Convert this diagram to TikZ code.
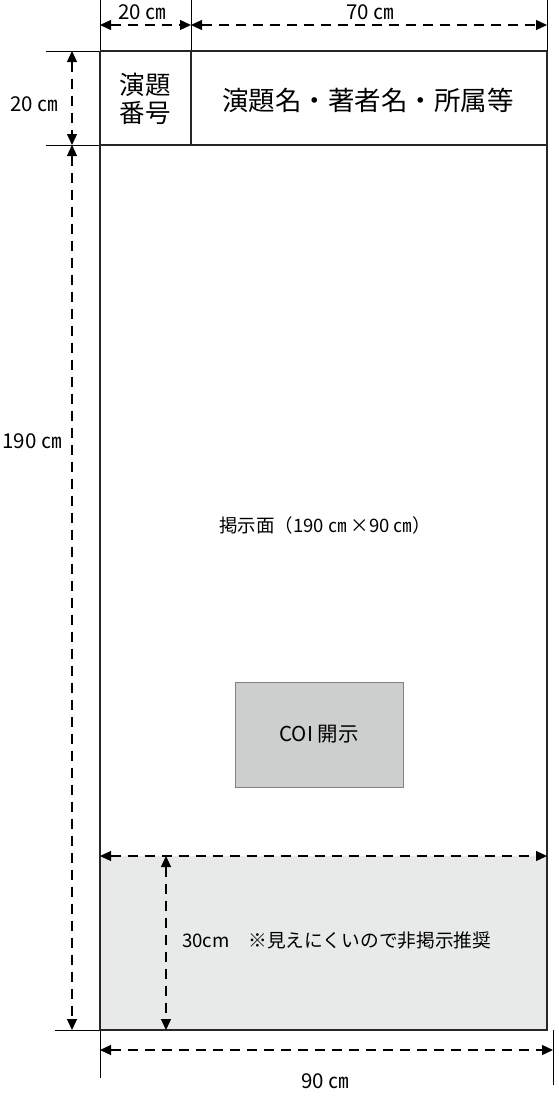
\documentclass[tikz,border=0pt]{standalone}
\usepackage{fontspec}
\setmainfont{Noto Sans CJK JP}
\usetikzlibrary{arrows.meta}
\begin{document}
\begin{tikzpicture}[x=1pt,y=-1pt,
  dimline/.style={line width=1.2pt,dash pattern=on 10pt off 7pt,{Triangle[length=11pt,width=10pt]}-{Triangle[length=11pt,width=10pt]}},
  extline/.style={line width=1pt},
  border/.style={line width=1.8pt,draw=black!85},
  lbl/.style={inner sep=0pt,font=\fontsize{20.5}{24}\selectfont}]
\useasboundingbox (0,0) rectangle (559,1100);
% coordinates
\coordinate (TL) at (100,51);
\coordinate (TD) at (191,51);
\coordinate (TR) at (547,51);
\coordinate (HL) at (100,145);
\coordinate (HD) at (191,145);
\coordinate (HR) at (547,145);
\coordinate (BL) at (100,1030);
\coordinate (BR) at (547,1030);
% gray bottom region
\fill[fill={rgb,255:red,232;green,233;blue,233}] (100,856) rectangle (BR);
% extension lines
\draw[extline] (100,0) -- (TL);
\draw[extline] (191,0) -- (TD);
\draw[extline] (547,0) -- (TR);
\draw[extline] (46,51) -- (TL);
\draw[extline] (46,145) -- (HL);
\draw[extline] (55,1030) -- (BL);
\draw[extline] (100,1030) -- (100,1078);
\draw[extline] (553,1030) -- (553,1085);
% borders
\draw[border] (TL) -- (TR);
\draw[border] (HL) -- (HR);
\draw[border] (TD) -- (HD);
\draw[border] (TL) -- (BL) -- (BR) -- (TR);
% COI box
\node[draw={rgb,255:red,130;green,130;blue,130},line width=1pt,fill={rgb,255:red,205;green,206;blue,206},minimum width=168pt,minimum height=105pt,inner sep=0pt,font=\fontsize{20.5}{24}\selectfont] (coi) at (319,734.5) {COI 開示};
% dimension arrows
\coordinate (a1) at (100,25); \coordinate (a2) at (191,25); \coordinate (a3) at (547,25);
\draw[dimline] (a1) -- (a2);
\draw[dimline] (a2) -- (a3);
\coordinate (v1) at (72,51); \coordinate (v2) at (72,145); \coordinate (v3) at (72,1030);
\draw[dimline] (v1) -- (v2);
\draw[dimline] (v2) -- (v3);
\coordinate (g1) at (100,856); \coordinate (g2) at (547,856);
\draw[dimline] (g1) -- (g2);
\coordinate (g3) at (166,856); \coordinate (g4) at (166,1030);
\draw[dimline] (g3) -- (g4);
\coordinate (b1) at (100,1050); \coordinate (b2) at (553,1050);
\draw[dimline] (b1) -- (b2);
% labels
\node[lbl] (l20t) at (142,12) {20 ㎝};
\node[lbl] (l70) at (370,12) {70 ㎝};
\node[lbl] (l20l) at (34,104) {20 ㎝};
\node[lbl] (l190) at (32,441) {190 ㎝};
\node[lbl] (l90) at (325,1081) {90 ㎝};
\node[inner sep=0pt,align=center,font=\fontsize{25.5}{28}\selectfont] (num) at (145,99) {演題\\番号};
\node[inner sep=0pt,font=\fontsize{26.5}{28}\selectfont] (title) at (368,100) {演題名・著者名・所属等};
\node[inner sep=0pt,font=\fontsize{18.5}{22}\selectfont] (face) at (325,525) {掲示面（190 ㎝ ×90 ㎝）};
\node[inner sep=0pt,anchor=west,font=\fontsize{18.7}{22}\selectfont] (note) at (182,940) {30cm　※見えにくいので非掲示推奨};
\end{tikzpicture}
\end{document}
